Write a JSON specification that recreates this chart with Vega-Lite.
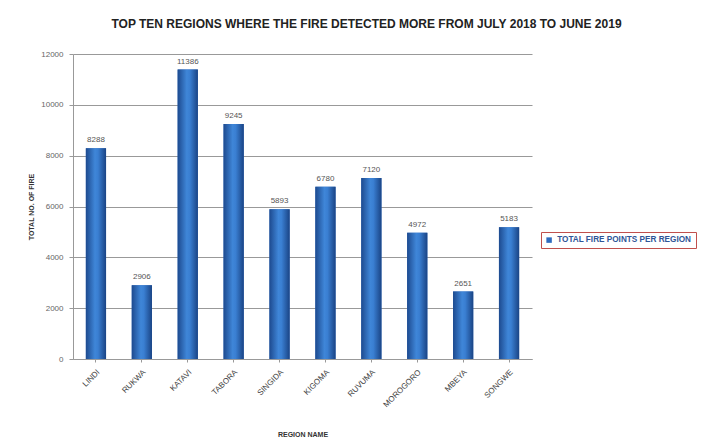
{
  "$schema": "https://vega.github.io/schema/vega-lite/v6.json",
  "width": 459,
  "height": 305,
  "autosize": {"type": "none"},
  "padding": {"left": 73, "top": 54, "right": 173, "bottom": 84},
  "background": "white",
  "title": {
    "text": "TOP TEN REGIONS WHERE THE FIRE DETECTED MORE FROM JULY 2018 TO JUNE 2019",
    "font": "Liberation Sans",
    "fontSize": 12,
    "fontWeight": "bold",
    "color": "#222222",
    "anchor": "middle",
    "dx": 64,
    "offset": 19
  },
  "data": {
    "values": [
      {"region": "LINDI", "fires": 8288, "series": "TOTAL FIRE POINTS PER REGION"},
      {"region": "RUKWA", "fires": 2906, "series": "TOTAL FIRE POINTS PER REGION"},
      {"region": "KATAVI", "fires": 11386, "series": "TOTAL FIRE POINTS PER REGION"},
      {"region": "TABORA", "fires": 9245, "series": "TOTAL FIRE POINTS PER REGION"},
      {"region": "SINGIDA", "fires": 5893, "series": "TOTAL FIRE POINTS PER REGION"},
      {"region": "KIGOMA", "fires": 6780, "series": "TOTAL FIRE POINTS PER REGION"},
      {"region": "RUVUMA", "fires": 7120, "series": "TOTAL FIRE POINTS PER REGION"},
      {"region": "MOROGORO", "fires": 4972, "series": "TOTAL FIRE POINTS PER REGION"},
      {"region": "MBEYA", "fires": 2651, "series": "TOTAL FIRE POINTS PER REGION"},
      {"region": "SONGWE", "fires": 5183, "series": "TOTAL FIRE POINTS PER REGION"}
    ]
  },
  "encoding": {
    "x": {
      "field": "region",
      "type": "nominal",
      "sort": null,
      "scale": {"paddingInner": 0.56, "paddingOuter": 0.28},
      "axis": {
        "title": "REGION NAME",
        "titleFont": "Liberation Sans",
        "titleFontSize": 7,
        "titleFontWeight": "bold",
        "titleColor": "#333333",
        "titlePadding": 22,
        "labelAngle": -45,
        "labelFont": "Liberation Sans",
        "labelFontSize": 8,
        "labelColor": "#444444",
        "labelPadding": 6,
        "domainColor": "#999999",
        "tickColor": "#999999",
        "tickSize": 3
      }
    },
    "y": {
      "field": "fires",
      "type": "quantitative",
      "scale": {"domain": [0, 12000]},
      "axis": {
        "title": "TOTAL NO. OF FIRE",
        "titleFont": "Liberation Sans",
        "titleFontSize": 7,
        "titleFontWeight": "bold",
        "titleColor": "#333333",
        "titlePadding": 6,
        "values": [0, 2000, 4000, 6000, 8000, 10000, 12000],
        "format": "d",
        "labelFont": "Liberation Sans",
        "labelFontSize": 8,
        "labelColor": "#666666",
        "labelPadding": 6,
        "gridColor": "#999999",
        "gridWidth": 1,
        "domainColor": "#999999",
        "tickColor": "#999999",
        "tickSize": 4
      }
    }
  },
  "layer": [
    {
      "mark": {"type": "bar"},
      "encoding": {
        "color": {
          "field": "series",
          "type": "nominal",
          "scale": {"range": ["#2f6bbf"]},
          "legend": {
            "title": null,
            "orient": "none",
            "legendX": 468,
            "legendY": 178,
            "symbolType": "square",
            "symbolSize": 30,
            "labelFont": "Liberation Sans",
            "labelFontSize": 8.2,
            "labelFontWeight": "bold",
            "labelColor": "#2f5597",
            "labelLimit": 300,
            "strokeColor": "#c0504d",
            "padding": 4,
            "fillColor": "white"
          }
        }
      }
    },
    {
      "mark": {
        "type": "bar",
        "color": {
          "gradient": "linear",
          "x1": 0, "y1": 0, "x2": 1, "y2": 0,
          "stops": [
            {"offset": 0, "color": "#1d4a8f"},
            {"offset": 0.45, "color": "#3f86d8"},
            {"offset": 0.6, "color": "#3a7fd2"},
            {"offset": 1, "color": "#1a4485"}
          ]
        }
      }
    },
    {
      "mark": {
        "type": "text",
        "dy": -8,
        "font": "Liberation Sans",
        "fontSize": 8,
        "color": "#555555"
      },
      "encoding": {
        "text": {"field": "fires", "type": "quantitative", "format": "d"}
      }
    }
  ],
  "config": {
    "view": {"stroke": null}
  }
}
